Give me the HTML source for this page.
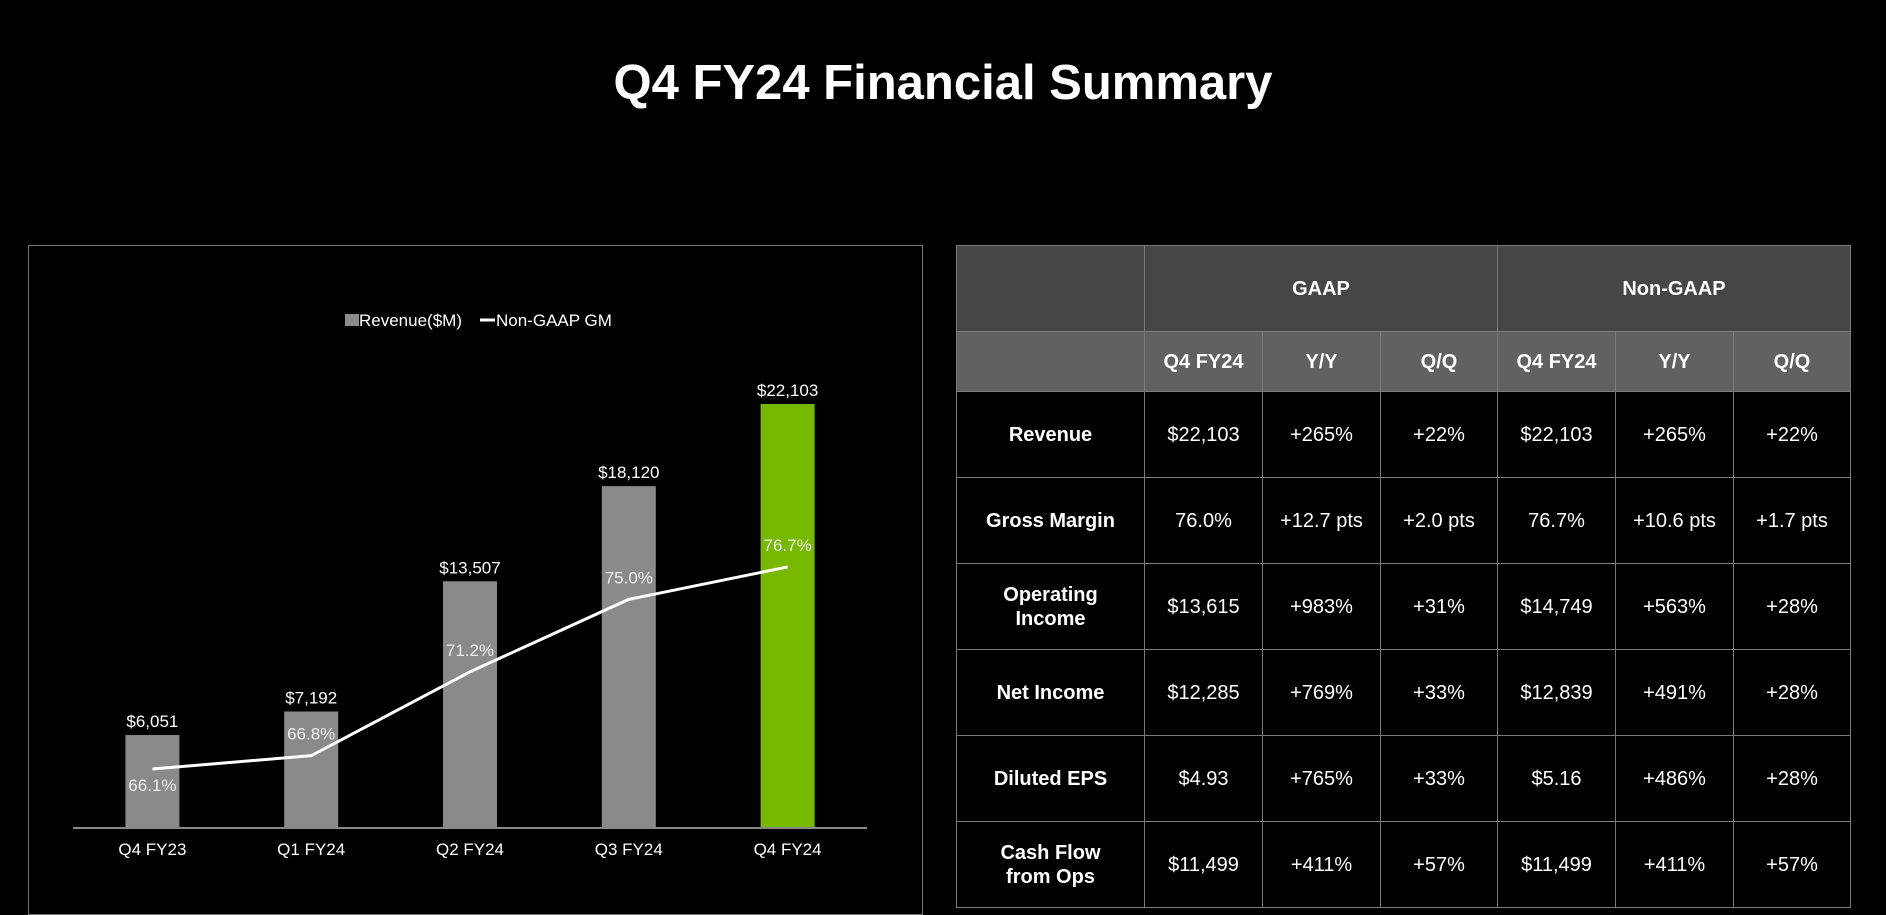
<!DOCTYPE html>
<html><head><meta charset="utf-8">
<style>
html,body{margin:0;padding:0;background:#000;width:1886px;height:904px;overflow:hidden;font-family:"Liberation Sans",sans-serif;color:#fff}
#title{position:absolute;left:0;width:1886px;top:55px;text-align:center;font-weight:bold;font-size:49px;}
#chartbox{position:absolute;left:28px;top:245px;width:895px;height:670px;border:1px solid #777;box-sizing:border-box}
svg{position:absolute;left:0;top:0}
table{position:absolute;left:956px;top:245px;border-collapse:collapse;table-layout:fixed}
td{border:1px solid #7a7a7a;text-align:center;font-size:20px;padding:0;line-height:24px}
tr.h1 td{background:#464646;height:85px;font-weight:bold}
tr.h2 td{background:#616161;height:59px;font-weight:bold}
tr.r td{height:85px}
td.lab{font-weight:bold}
</style></head><body>
<div id="title">Q4 FY24 Financial Summary</div>
<div id="chartbox"></div>
<svg id="chart" width="930" height="904"></svg>
<table>
<colgroup><col style="width:188px"><col style="width:118px"><col style="width:118px"><col style="width:117px"><col style="width:118px"><col style="width:118px"><col style="width:117px"></colgroup>
<tr class="h1"><td></td><td colspan="3">GAAP</td><td colspan="3">Non-GAAP</td></tr>
<tr class="h2"><td></td><td>Q4 FY24</td><td>Y/Y</td><td>Q/Q</td><td>Q4 FY24</td><td>Y/Y</td><td>Q/Q</td></tr>
<tr class="r"><td class="lab">Revenue</td><td>$22,103</td><td>+265%</td><td>+22%</td><td>$22,103</td><td>+265%</td><td>+22%</td></tr>
<tr class="r"><td class="lab">Gross Margin</td><td>76.0%</td><td>+12.7 pts</td><td>+2.0 pts</td><td>76.7%</td><td>+10.6 pts</td><td>+1.7 pts</td></tr>
<tr class="r"><td class="lab">Operating<br>Income</td><td>$13,615</td><td>+983%</td><td>+31%</td><td>$14,749</td><td>+563%</td><td>+28%</td></tr>
<tr class="r"><td class="lab">Net Income</td><td>$12,285</td><td>+769%</td><td>+33%</td><td>$12,839</td><td>+491%</td><td>+28%</td></tr>
<tr class="r"><td class="lab">Diluted EPS</td><td>$4.93</td><td>+765%</td><td>+33%</td><td>$5.16</td><td>+486%</td><td>+28%</td></tr>
<tr class="r"><td class="lab">Cash Flow<br>from Ops</td><td>$11,499</td><td>+411%</td><td>+57%</td><td>$11,499</td><td>+411%</td><td>+57%</td></tr>
</table>
<script>
const categories=["Q4 FY23","Q1 FY24","Q2 FY24","Q3 FY24","Q4 FY24"];
const revenue=[6051,7192,13507,18120,22103];
const revenueLabels=["$6,051","$7,192","$13,507","$18,120","$22,103"];
const gm=[66.1,66.8,71.2,75.0,76.7];
const gmLabels=["66.1%","66.8%","71.2%","75.0%","76.7%"];
const NS="http://www.w3.org/2000/svg";
const svg=document.getElementById('chart');
const baseY=828, x0=73, x1=867;
const xPos=i=>x0+(x1-x0)*(i+0.5)/categories.length;
const yRev=v=>baseY-(v-1542)*0.02062;
const yGm=v=>769-(v-66.1)*19.06;
function mk(tag,attrs,text){const e=document.createElementNS(NS,tag);for(const k in attrs)e.setAttribute(k,attrs[k]);if(text!==undefined)e.textContent=text;svg.appendChild(e);return e;}
const T={fill:"#fff","font-family":"Liberation Sans, sans-serif","font-size":"17","text-anchor":"middle"};
categories.forEach((c,i)=>{
  const x=xPos(i),y=yRev(revenue[i]);
  const b=mk('rect',{x:x-27,y:y,width:54,height:baseY-y,fill:i===categories.length-1?"#76b900":"#8a8a8a"});
  
  
  const l=mk('text',Object.assign({x:x,y:y-8},T),revenueLabels[i]);
  
  
  const t=mk('text',Object.assign({x:x,y:855},T),c);
  
  
});
const ax=mk('line',{x1:x0,y1:baseY,x2:x1,y2:baseY,stroke:"#888","stroke-width":2});


const pts=gm.map((v,i)=>xPos(i)+","+yGm(v)).join(" ");
const pl=mk('polyline',{points:pts,fill:"none",stroke:"#fff","stroke-width":3});


gm.forEach((v,i)=>{
  const y=i===0?yGm(v)+22:yGm(v)-16;
  const l=mk('text',Object.assign({x:xPos(i),y:y},T,{fill:"#eee"}),gmLabels[i]);
  
  
});
const lr=mk('rect',{x:345,y:314,width:14,height:12,fill:"#8a8a8a"});


const lt=mk('text',Object.assign({x:359,y:326},T,{"text-anchor":"start"}),"Revenue($M)");


const ll=mk('line',{x1:480,y1:320,x2:495,y2:320,stroke:"#fff","stroke-width":3});


const lg=mk('text',Object.assign({x:496,y:326},T,{"text-anchor":"start"}),"Non-GAAP GM");


</script>
</body></html>
